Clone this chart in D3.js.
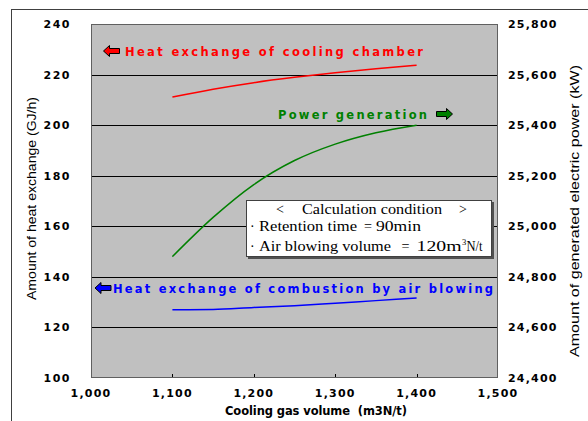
<!DOCTYPE html>
<html><head><meta charset="utf-8">
<script src="https://cdn.jsdelivr.net/npm/d3@7"></script>
<style>body{margin:0;background:#fff}svg{display:block}</style>
</head><body>
<svg id="c" width="588" height="421"></svg>
<script>
const xVals = [1100, 1150, 1200, 1250, 1300, 1350, 1400];
const coolingHeat = [211.1, 214.2, 216.8, 218.9, 220.7, 222.3, 223.7];
const combustionHeat = [127.0, 127.1, 127.9, 128.6, 129.6, 130.6, 131.6];
const powerGen = [24880, 25035, 25165, 25260, 25325, 25370, 25400];
const xTicks = [1000, 1100, 1200, 1300, 1400, 1500];
const yLeftTicks = [100, 120, 140, 160, 180, 200, 220, 240];
const yRightTicks = [24400, 24600, 24800, 25000, 25200, 25400, 25600, 25800];

const svg = d3.select("#c");
const L = 91, R = 498, T = 24, B = 378;
const x = d3.scaleLinear().domain([1000, 1500]).range([L, R]);
const yL = d3.scaleLinear().domain([100, 240]).range([B, T]);
const yR = d3.scaleLinear().domain([24400, 25800]).range([B, T]);
const fmt = d3.format(",");

// outer frame
svg.append("rect").attr("x", 11.5).attr("y", 9.5).attr("width", 620).attr("height", 450)
  .attr("fill", "none").attr("stroke", "#404040").attr("stroke-width", 1);

// plot area
svg.append("rect").attr("x", L).attr("y", T).attr("width", R - L).attr("height", B - T)
  .attr("fill", "#c0c0c0");

// gridlines
svg.append("g").selectAll("line").data(yLeftTicks.filter(d => d > 100 && d < 240)).join("line")
  .attr("x1", L).attr("x2", R).attr("y1", d => Math.round(yL(d)) + 0.5).attr("y2", d => Math.round(yL(d)) + 0.5)
  .attr("stroke", "#000").attr("stroke-width", 1);

// x tick marks (inward)
svg.append("g").selectAll("line").data(xTicks.filter(d => d > 1000 && d < 1500)).join("line")
  .attr("x1", d => Math.round(x(d)) + 0.5).attr("x2", d => Math.round(x(d)) + 0.5)
  .attr("y1", B).attr("y2", B - 4).attr("stroke", "#000");

svg.append("rect").attr("x", L + 0.5).attr("y", T + 0.5).attr("width", R - L - 1).attr("height", B - T - 1)
  .attr("fill", "none").attr("stroke", "#606060").attr("stroke-width", 1);

const tickFont = "'DejaVu Sans', sans-serif";
svg.append("g").selectAll("text").data(yLeftTicks).join("text")
  .attr("x", 71).attr("y", d => yL(d) + 4).attr("text-anchor", "end")
  .attr("font-family", tickFont).attr("font-weight", "bold").attr("font-size", 11)
  .attr("letter-spacing", 1.5).attr("fill", "#000").text(d => d);
svg.append("g").selectAll("text").data(yRightTicks).join("text")
  .attr("x", 508).attr("y", d => yR(d) + 4)
  .attr("font-family", tickFont).attr("font-weight", "bold").attr("font-size", 11)
  .attr("letter-spacing", 1.2).attr("fill", "#000").text(d => fmt(d));
svg.append("g").selectAll("text").data(xTicks).join("text")
  .attr("x", d => x(d)).attr("y", 397).attr("text-anchor", "middle")
  .attr("font-family", tickFont).attr("font-weight", "bold").attr("font-size", 11)
  .attr("letter-spacing", 1.2).attr("fill", "#000").text(d => fmt(d));

// axis titles
svg.append("text").attr("transform", "translate(36,198.5) rotate(-90)")
  .attr("text-anchor", "middle").attr("font-family", "'Liberation Sans', Arial, sans-serif")
  .attr("font-size", 13).attr("textLength", 203).attr("lengthAdjust", "spacingAndGlyphs")
  .text("Amount of heat exchange (GJ/h)");
svg.append("text").attr("transform", "translate(579,211) rotate(-90)")
  .attr("text-anchor", "middle").attr("font-family", "'Liberation Sans', Arial, sans-serif")
  .attr("font-size", 13).attr("textLength", 292).attr("lengthAdjust", "spacingAndGlyphs")
  .text("Amount of generated electric power (kW)");
svg.append("text").attr("x", 225).attr("y", 415)
  .attr("font-family", tickFont).attr("font-weight", "bold").attr("font-size", 11.5)
  .attr("textLength", 182).attr("lengthAdjust", "spacing")
  .text("Cooling gas volume \u00a0(m3N/t)");

// lines
const lineL = d3.line().x((d, i) => x(xVals[i])).y(d => yL(d)).curve(d3.curveMonotoneX);
const lineR = d3.line().x((d, i) => x(xVals[i])).y(d => yR(d)).curve(d3.curveMonotoneX);
svg.append("path").datum(coolingHeat).attr("d", lineL).attr("fill", "none").attr("stroke", "#ff0000").attr("stroke-width", 1.5);
svg.append("path").datum(combustionHeat).attr("d", lineL).attr("fill", "none").attr("stroke", "#0000ff").attr("stroke-width", 1.5);
svg.append("path").datum(powerGen).attr("d", lineR).attr("fill", "none").attr("stroke", "#008000").attr("stroke-width", 1.5);

// block arrows
function arrow(cx, cy, dir, color) {
  const pts = [[-8, -2.5], [2, -2.5], [2, -5.5], [8, 0], [2, 5.5], [2, 2.5], [-8, 2.5]]
    .map(p => [cx + p[0] * dir, cy + p[1]]);
  svg.append("path").attr("d", "M" + pts.join("L") + "Z")
    .attr("fill", color).attr("stroke", "#000").attr("stroke-width", 1);
}
arrow(111.5, 51, -1, "#ff0000");
arrow(444.5, 114, 1, "#008000");
arrow(103, 288, -1, "#0000ff");

const lblFont = "'DejaVu Sans', sans-serif";
svg.append("text").attr("x", 125).attr("y", 55.5).attr("fill", "#ff0000")
  .attr("font-family", lblFont).attr("font-weight", "bold").attr("font-size", 11.5)
  .attr("textLength", 298).attr("lengthAdjust", "spacing").text("Heat exchange of cooling chamber");
svg.append("text").attr("x", 278).attr("y", 118.5).attr("fill", "#008000")
  .attr("font-family", lblFont).attr("font-weight", "bold").attr("font-size", 11.5)
  .attr("textLength", 149).attr("lengthAdjust", "spacing").text("Power generation");
svg.append("text").attr("x", 113).attr("y", 292.5).attr("fill", "#0000ff")
  .attr("font-family", lblFont).attr("font-weight", "bold").attr("font-size", 11.5)
  .attr("textLength", 380).attr("lengthAdjust", "spacing").text("Heat exchange of combustion by air blowing");

// calculation condition box
svg.append("rect").attr("x", 248).attr("y", 202).attr("width", 246).attr("height", 57).attr("fill", "#505050");
svg.append("rect").attr("x", 246.5).attr("y", 200.5).attr("width", 245).attr("height", 56)
  .attr("fill", "#fff").attr("stroke", "#404040").attr("stroke-width", 1);
const serif = "'Liberation Serif', 'DejaVu Serif', serif";
const box = svg.append("g").attr("font-family", serif).attr("font-size", 14).attr("fill", "#000");
function bt(xp, yp, s, w) {
  const t = box.append("text").attr("x", xp).attr("y", yp).text(s);
  if (w) t.attr("textLength", w).attr("lengthAdjust", "spacingAndGlyphs");
  return t;
}
bt(276, 214, "<");
bt(302, 214, "Calculation condition", 140);
bt(459, 214, ">");
bt(250, 231, "\u00b7");
bt(259, 231, "Retention time", 98);
bt(364, 231, "=", 8);
bt(376, 231, "90min", 45);
bt(250, 251, "\u00b7");
bt(259, 251, "Air blowing volume", 132);
bt(401.5, 251, "=", 8);
bt(416.5, 251, "120m", 45);
bt(462, 245, "3").attr("font-size", 8.5);
bt(466.5, 251, "N/t", 16);
</script>
</body></html>
